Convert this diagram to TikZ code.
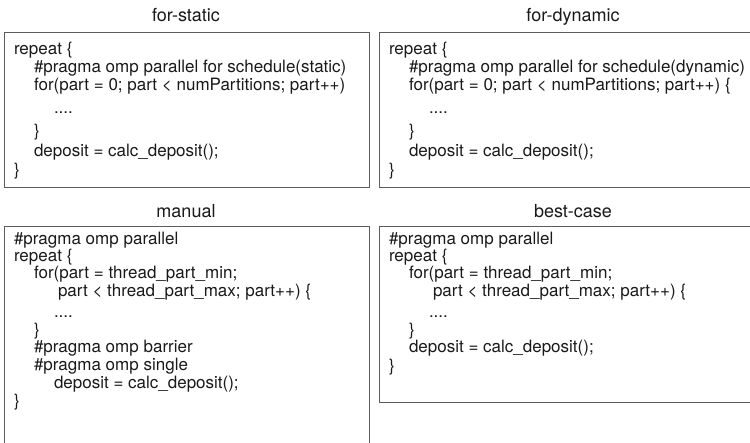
\documentclass[tikz,border=0pt]{standalone}
\usepackage{fontspec}
\setmainfont{TeX Gyre Heros}
\definecolor{boxgray}{rgb}{0.36,0.36,0.36}
\definecolor{textblack}{rgb}{0.1,0.1,0.1}
\begin{document}
\begin{tikzpicture}[x=1bp,y=-1bp,
  codebox/.style={draw=boxgray,line width=1.1bp},
  code/.style={anchor=base west,inner sep=0pt,outer sep=0pt,font=\fontsize{17bp}{20bp}\selectfont,text=textblack},
  title/.style={anchor=base,inner sep=0pt,outer sep=0pt,font=\fontsize{18bp}{20bp}\selectfont,text=textblack}]
\useasboundingbox (0,0) rectangle (750,443);
\clip (0,0) rectangle (750,443);
% boxes
\draw[codebox] (4.5,32.5) rectangle (369.5,187.5);
\draw[codebox] (379.5,32.5) rectangle (770,187.5);
\draw[codebox] (4.5,226.5) rectangle (369.5,460);
\draw[codebox] (379.5,226.5) rectangle (770,402.5);
% titles
\node[title] (t1) at (186,21.5) {for-static};
\node[title] (t2) at (573,21.5) {for-dynamic};
\node[title] (t3) at (186,217.5) {manual};
\node[title] (t4) at (573,217.5) {best-case};
% box 1
\node[code] (s1) at (14,55) {repeat \{};
\node[code] (s2) at (34,73) {\#pragma omp parallel for schedule(static)};
\node[code] (s3) at (34,91) {for(part = 0; part < numPartitions; part++)};
\node[code] (s4) at (54,114) {....};
\node[code] (s5) at (34,137) {\}};
\node[code] (s6) at (34,157) {deposit = calc\_deposit();};
\node[code] (s7) at (14,176) {\}};
% box 2
\node[code] (d1) at (389,55) {repeat \{};
\node[code] (d2) at (409,73) {\#pragma omp parallel for schedule(dynamic)};
\node[code] (d3) at (409,91) {for(part = 0; part < numPartitions; part++) \{};
\node[code] (d4) at (429,114) {....};
\node[code] (d5) at (409,137) {\}};
\node[code] (d6) at (409,157) {deposit = calc\_deposit();};
\node[code] (d7) at (389,176) {\}};
% box 3
\node[code] (m1) at (14,245) {\#pragma omp parallel};
\node[code] (m2) at (14,262) {repeat \{};
\node[code] (m3) at (34,279) {for(part = thread\_part\_min;};
\node[code] (m4) at (58,297) {part < thread\_part\_max; part++) \{};
\node[code] (m5) at (54,318) {....};
\node[code] (m6) at (34,336) {\}};
\node[code] (m7) at (34,353) {\#pragma omp barrier};
\node[code] (m8) at (34,371) {\#pragma omp single};
\node[code] (m9) at (54,388) {deposit = calc\_deposit();};
\node[code] (m10) at (14,406) {\}};
% box 4
\node[code] (b1) at (389,245) {\#pragma omp parallel};
\node[code] (b2) at (389,262) {repeat \{};
\node[code] (b3) at (409,279) {for(part = thread\_part\_min;};
\node[code] (b4) at (433,297) {part < thread\_part\_max; part++) \{};
\node[code] (b5) at (429,318) {....};
\node[code] (b6) at (409,336) {\}};
\node[code] (b7) at (409,353) {deposit = calc\_deposit();};
\node[code] (b8) at (389,372) {\}};
\end{tikzpicture}
\end{document}
